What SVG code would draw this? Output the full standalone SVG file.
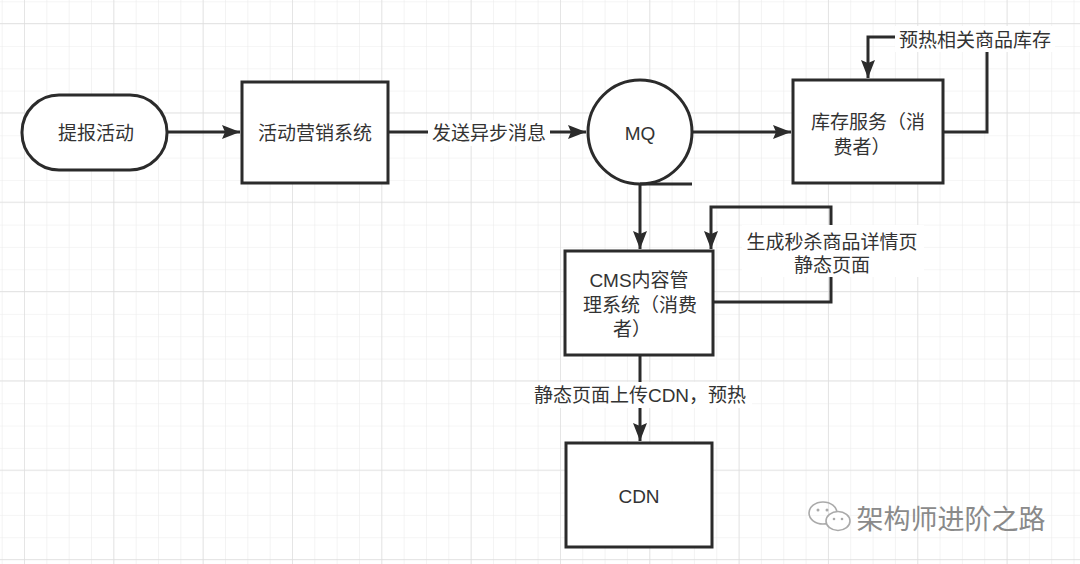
<svg xmlns="http://www.w3.org/2000/svg" width="1080" height="564" viewBox="0 0 1080 564">
<defs>
<pattern id="minor" x="1.7" y="1.3" width="22.33" height="22.33" patternUnits="userSpaceOnUse">
<path d="M0,0 H22.33 M0,0 V22.33" fill="none" stroke="#ececec" stroke-width="1.2"/>
</pattern>
<pattern id="major" x="24" y="23" width="89.33" height="89.33" patternUnits="userSpaceOnUse">
<path d="M0,0 H89.33 M0,0 V89.33" fill="none" stroke="#dedede" stroke-width="1.4"/>
</pattern>
<marker id="arr" markerUnits="userSpaceOnUse" markerWidth="20" markerHeight="14" refX="18" refY="7" orient="auto">
<path d="M0,0 L18,7 L0,14 L3,7 z" fill="#2b2b2b"/>
</marker>
<style>
.node{fill:#fff;stroke:#2b2b2b;stroke-width:3}
.t{font-family:"Liberation Sans","Noto Sans CJK SC",sans-serif;font-size:19px;fill:#333;text-anchor:middle;dominant-baseline:central}
.edge{fill:none;stroke:#2b2b2b;stroke-width:3}
.lbg{fill:#fff}
</style>
</defs>
<rect width="1080" height="564" fill="#fff"/>
<rect width="1080" height="564" fill="url(#minor)"/>
<rect width="1080" height="564" fill="url(#major)"/>

<g id="connectors">
<path class="edge" d="M167,132 H240" marker-end="url(#arr)"/>
<path class="edge" d="M388,132 H586" marker-end="url(#arr)"/>
<path class="edge" d="M692,132 H791" marker-end="url(#arr)"/>
<path class="edge" d="M943,132 H987 V37 H868 V78" marker-end="url(#arr)"/>
<path class="edge" d="M640,184 V249" marker-end="url(#arr)"/>
<path class="edge" d="M713,302 H831 V207 H711 V249" marker-end="url(#arr)"/>
<path class="edge" d="M640,355 V441" marker-end="url(#arr)"/>
<rect class="lbg" x="428" y="120" width="122" height="26"/>
<text class="t" x="489" y="133">发送异步消息</text>
<rect class="lbg" x="895" y="26" width="160" height="26"/>
<text class="t" x="975" y="40">预热相关商品库存</text>
<rect class="lbg" x="742" y="225" width="182" height="52"/>
<text class="t" x="832" y="242">生成秒杀商品详情页</text>
<text class="t" x="832" y="265">静态页面</text>
<rect class="lbg" x="530" y="382" width="222" height="26"/>
<text class="t" x="640" y="395">静态页面上传CDN，预热</text>
</g>

<g id="node-report">
<rect class="node" x="22" y="95" width="145" height="75" rx="37" ry="37"/>
<text class="t" x="96" y="133">提报活动</text>
</g>
<g id="node-marketing">
<rect class="node" x="242" y="82" width="146" height="101"/>
<text class="t" x="315" y="133">活动营销系统</text>
</g>
<g id="node-mq">
<circle class="node" cx="640" cy="132" r="52"/>
<path class="edge" d="M640,184 H692"/>
<text class="t" x="640" y="133">MQ</text>
</g>
<g id="node-stock">
<rect class="node" x="793" y="80" width="150" height="103"/>
<text class="t" x="868" y="122">库存服务（消</text>
<text class="t" x="862" y="147">费者）</text>
</g>
<g id="node-cms">
<rect class="node" x="565" y="251" width="148" height="104"/>
<text class="t" x="639" y="280">CMS内容管</text>
<text class="t" x="640" y="305">理系统（消费</text>
<text class="t" x="632" y="329">者）</text>
</g>
<g id="node-cdn">
<rect class="node" x="566" y="443" width="146" height="104"/>
<text class="t" x="639" y="496">CDN</text>
</g>

<g id="watermark">
<ellipse cx="823" cy="513" rx="14" ry="11" fill="none" stroke="#aaa" stroke-width="1.6"/>
<ellipse cx="838" cy="521" rx="12" ry="9.5" fill="#fff" stroke="#aaa" stroke-width="1.6"/>
<circle cx="818" cy="510" r="1.5" fill="#aaa"/>
<circle cx="827" cy="510" r="1.5" fill="#aaa"/>
<circle cx="834" cy="519" r="1.3" fill="#aaa"/>
<circle cx="842" cy="519" r="1.3" fill="#aaa"/>
<text x="951" y="517" font-family="'Noto Sans CJK SC',sans-serif" font-size="27" fill="#8a8a8a" text-anchor="middle" dominant-baseline="central">架构师进阶之路</text>
</g>
</svg>
